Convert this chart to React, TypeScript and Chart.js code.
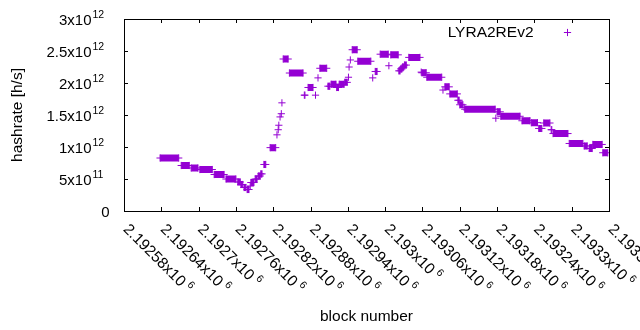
import React, { useEffect, useRef } from 'react';
import { Chart, registerables } from 'chart.js';

Chart.register(...registerables);

// Runs of consecutive blocks with the same hashrate estimate
const runStart = [
  2192638, 2192672, 2192688, 2192702, 2192725, 2192744, 2192763, 2192768, 2192773, 2192778,
  2192783, 2192784, 2192791, 2192796, 2192800, 2192805, 2192815, 2192826, 2192828, 2192829,
  2192831, 2192833, 2192834, 2192836, 2192846, 2192870, 2192876, 2192888, 2192892, 2192895,
  2192908, 2192913, 2192922, 2192926, 2192935, 2192941, 2192942, 2192944, 2192947, 2192956,
  2192980, 2192984, 2192992, 2193006, 2193009, 2193022, 2193025, 2193028, 2193031, 2193038,
  2193058, 2193059, 2193067, 2193093, 2193096, 2193104, 2193117, 2193120, 2193127, 2193128,
  2193178, 2193180, 2193186, 2193220, 2193235, 2193247, 2193255, 2193267, 2193270, 2193296,
  2193320, 2193328, 2193334, 2193350,
];
const runEnd = [
  2192668, 2192685, 2192699, 2192722, 2192741, 2192760, 2192767, 2192771, 2192776, 2192781,
  2192783, 2192789, 2192794, 2192799, 2192802, 2192808, 2192824, 2192826, 2192828, 2192829,
  2192831, 2192833, 2192834, 2192844, 2192868, 2192871, 2192884, 2192888, 2192892, 2192906,
  2192911, 2192921, 2192925, 2192934, 2192939, 2192941, 2192942, 2192944, 2192955, 2192977,
  2192980, 2192987, 2193005, 2193006, 2193021, 2193024, 2193027, 2193030, 2193034, 2193056,
  2193058, 2193066, 2193091, 2193093, 2193103, 2193116, 2193119, 2193125, 2193127, 2193177,
  2193178, 2193185, 2193217, 2193233, 2193245, 2193252, 2193265, 2193268, 2193294, 2193318,
  2193325, 2193333, 2193349, 2193358,
];
const runHashrate = [
  0.828e12, 0.711e12, 0.672e12, 0.648e12, 0.570e12, 0.500e12, 0.453e12, 0.414e12, 0.367e12, 0.336e12,
  0.390e12, 0.445e12, 0.500e12, 0.547e12, 0.580e12, 0.727e12, 0.990e12, 1.190e12, 1.270e12, 1.340e12,
  1.470e12, 1.520e12, 1.690e12, 2.375e12, 2.156e12, 1.810e12, 1.930e12, 1.810e12, 2.080e12, 2.230e12,
  1.950e12, 1.980e12, 1.930e12, 1.980e12, 2.010e12, 2.090e12, 2.250e12, 2.360e12, 2.520e12, 2.340e12,
  2.080e12, 2.180e12, 2.450e12, 2.270e12, 2.440e12, 2.190e12, 2.220e12, 2.250e12, 2.280e12, 2.400e12,
  2.170e12, 2.160e12, 2.090e12, 1.890e12, 1.940e12, 1.830e12, 1.730e12, 1.660e12, 1.620e12, 1.590e12,
  1.450e12, 1.550e12, 1.480e12, 1.410e12, 1.380e12, 1.290e12, 1.375e12, 1.270e12, 1.210e12, 1.055e12,
  1.016e12, 0.977e12, 1.040e12, 0.910e12,
];

const seriesLabel = 'LYRA2REv2';
const xTitle = 'block number';
const yTitle = 'hashrate [h/s]';
const xMin = 2192580;
const xMax = 2193360;
const xStep = 60;
const yMin = 0;
const yMax = 3e12;
const yStep = 5e11;

const COLOR = '#9400D3';
const FONT_YTICK = '15px "Liberation Sans", Arial, sans-serif';
const FONT_MAIN = '15.5px "Liberation Sans", Arial, sans-serif';
const FONT_SUP = '10.5px "Liberation Sans", Arial, sans-serif';

function sciParts(v: number): [string, string] {
  if (v === 0) return ['0', ''];
  const e = Math.floor(Math.log10(Math.abs(v)) + 1e-9);
  const m = parseFloat((v / Math.pow(10, e)).toPrecision(10));
  return [`${m}x10`, `${e}`];
}

const gnuplotFrame = {
  id: 'gnuplotFrame',
  beforeDatasetsDraw(chart: any) {
    const { ctx, chartArea: a, scales } = chart;
    const x = scales.x;
    const y = scales.y;
    ctx.save();
    ctx.strokeStyle = '#000';
    ctx.lineWidth = 1;
    ctx.beginPath();
    const tl = 4;
    y.ticks.forEach((t: any) => {
      const py = Math.round(y.getPixelForValue(t.value)) + 0.5;
      ctx.moveTo(a.left, py);
      ctx.lineTo(a.left + tl, py);
      ctx.moveTo(a.right, py);
      ctx.lineTo(a.right - tl, py);
    });
    x.ticks.forEach((t: any) => {
      const px = Math.round(x.getPixelForValue(t.value)) + 0.5;
      ctx.moveTo(px, a.bottom);
      ctx.lineTo(px, a.bottom - tl);
      ctx.moveTo(px, a.top);
      ctx.lineTo(px, a.top + tl);
    });
    ctx.stroke();
    ctx.strokeRect(a.left + 0.5, a.top + 0.5, a.right - a.left, a.bottom - a.top);
    ctx.restore();
  },
  afterDraw(chart: any) {
    const { ctx, chartArea: a, scales } = chart;
    const x = scales.x;
    const y = scales.y;
    ctx.save();
    ctx.fillStyle = '#000';
    ctx.textBaseline = 'alphabetic';

    // y tick labels
    y.ticks.forEach((t: any) => {
      const py = y.getPixelForValue(t.value);
      const [m, e] = sciParts(t.value);
      ctx.font = FONT_YTICK;
      ctx.textAlign = 'right';
      if (!e) {
        ctx.fillText(m, a.left - 14.5, py + 6);
        return;
      }
      ctx.fillText(m, a.left - 32.5, py + 6);
      ctx.font = FONT_SUP;
      ctx.textAlign = 'left';
      ctx.fillText(e, a.left - 31.5, py - 0.7);
    });

    // x tick labels, rotated
    x.ticks.forEach((t: any) => {
      const px = x.getPixelForValue(t.value);
      const [m, e] = sciParts(t.value);
      ctx.save();
      ctx.translate(px - 1.5, a.bottom + 19);
      ctx.rotate(Math.PI / 4);
      ctx.font = FONT_MAIN;
      ctx.textAlign = 'left';
      ctx.fillText(m, 0, 0);
      const w = ctx.measureText(m).width;
      if (e) {
        ctx.font = FONT_SUP;
        ctx.fillText(e, w + 3.5, -6.5);
      }
      ctx.restore();
    });

    // axis titles
    ctx.font = FONT_MAIN;
    ctx.textAlign = 'center';
    ctx.fillText(xTitle, (a.left + a.right) / 2, 321);
    ctx.save();
    ctx.translate(21.5, (a.top + a.bottom) / 2);
    ctx.rotate(-Math.PI / 2);
    ctx.fillText(yTitle, 0, 0);
    ctx.restore();

    // legend
    ctx.textAlign = 'right';
    ctx.fillText(seriesLabel, a.right - 75.5, 37.3);
    const lx = a.right - 41.5;
    const ly = 32.5;
    ctx.strokeStyle = COLOR;
    ctx.lineWidth = 1;
    ctx.beginPath();
    ctx.moveTo(lx - 3.6, ly);
    ctx.lineTo(lx + 3.6, ly);
    ctx.moveTo(lx, ly - 3.6);
    ctx.lineTo(lx, ly + 3.6);
    ctx.stroke();
    ctx.restore();
  },
};

export default function App() {
  const ref = useRef<HTMLCanvasElement | null>(null);

  useEffect(() => {
    if (!ref.current) return;
    const points: { x: number; y: number | null }[] = [];
    runStart.forEach((s, i) => {
      points.push({ x: s, y: runHashrate[i] });
      if (runEnd[i] !== s) points.push({ x: runEnd[i], y: runHashrate[i] });
      points.push({ x: runEnd[i], y: null });
    });

    const chart = new Chart(ref.current, {
      type: 'scatter',
      data: {
        datasets: [
          {
            label: seriesLabel,
            data: points as any,
            showLine: true,
            borderColor: COLOR,
            backgroundColor: COLOR,
            borderWidth: 7,
            borderCapStyle: 'butt',
            pointStyle: 'cross',
            pointRadius: 3.6,
            pointHoverRadius: 3.6,
            pointBorderWidth: 1,
            pointBorderColor: COLOR,
            pointBackgroundColor: COLOR,
            spanGaps: false,
            tension: 0,
          } as any,
        ],
      },
      options: {
        animation: false,
        responsive: false,
        events: [],
        layout: { padding: { left: 0, right: 31, top: 19, bottom: 0 } },
        plugins: { legend: { display: false }, tooltip: { enabled: false } },
        scales: {
          x: {
            type: 'linear',
            min: xMin,
            max: xMax,
            ticks: { display: false, stepSize: xStep },
            grid: { display: false },
            border: { display: false },
            afterFit: (s: any) => {
              s.height = 119;
            },
          },
          y: {
            type: 'linear',
            min: yMin,
            max: yMax,
            ticks: { display: false, stepSize: yStep },
            grid: { display: false },
            border: { display: false },
            afterFit: (s: any) => {
              s.width = 124;
            },
          },
        },
      },
      plugins: [gnuplotFrame],
    });
    return () => chart.destroy();
  }, []);

  return (
    <div style={{ position: 'fixed', left: 0, top: 0, width: 640, height: 330, background: '#fff' }}>
      <canvas ref={ref} width={640} height={330} style={{ display: 'block' }} />
    </div>
  );
}
